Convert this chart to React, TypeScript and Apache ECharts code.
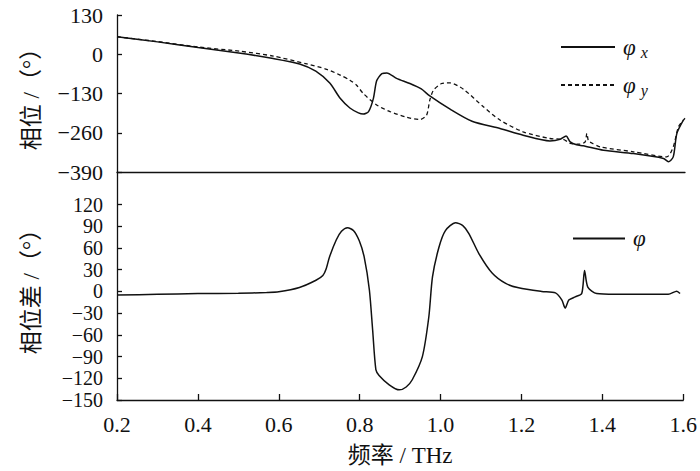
import React, { useEffect, useRef } from "react";
import * as echarts from "echarts";

// φx (solid) – frequency (THz) and phase (°)
const freqX = [0.2, 0.3, 0.4, 0.5, 0.585, 0.65, 0.69, 0.725, 0.75, 0.774, 0.795, 0.807, 0.82, 0.832, 0.84, 0.853, 0.865, 0.889, 0.922, 0.95, 0.971, 1.021, 1.075, 1.144, 1.201, 1.267, 1.292, 1.307, 1.317, 1.333, 1.349, 1.399, 1.473, 1.547, 1.559, 1.571, 1.58, 1.596];
const phaseX = [58, 41, 22, 4, -14, -32, -56, -96, -146, -178, -194, -198, -190, -146, -88, -64, -62, -80, -97, -115, -138, -182, -222, -246, -268, -287, -282, -271, -290, -300, -303, -318, -329, -345, -356, -340, -262, -218];

// φy (dashed)
const freqY = [0.2, 0.3, 0.4, 0.503, 0.585, 0.668, 0.717, 0.75, 0.774, 0.79, 0.807, 0.84, 0.873, 0.914, 0.947, 0.963, 0.971, 0.98, 1.0, 1.013, 1.021, 1.054, 1.103, 1.144, 1.201, 1.267, 1.3, 1.317, 1.341, 1.354, 1.358, 1.362, 1.366, 1.391, 1.473, 1.555, 1.571, 1.584, 1.6];
const phaseY = [58, 42, 24, 10, -6, -32, -50, -69, -86, -102, -130, -168, -190, -209, -216, -202, -152, -119, -97, -95, -95, -116, -174, -218, -257, -279, -282, -295, -298, -290, -262, -288, -291, -307, -323, -340, -307, -240, -212];

// φ (phase difference)
const freqD = [0.2, 0.3, 0.4, 0.5, 0.57, 0.6, 0.651, 0.692, 0.709, 0.717, 0.725, 0.742, 0.755, 0.77, 0.785, 0.799, 0.811, 0.824, 0.832, 0.84, 0.848, 0.873, 0.898, 0.915, 0.93, 0.955, 0.971, 0.98, 0.996, 1.012, 1.037, 1.055, 1.07, 1.095, 1.128, 1.161, 1.193, 1.25, 1.284, 1.3, 1.308, 1.317, 1.333, 1.349, 1.356, 1.364, 1.386, 1.432, 1.563, 1.584, 1.592];
const phaseD = [-5, -4, -3, -2.5, -1.5, -0.5, 5.5, 15.5, 22, 31, 47, 71, 83, 88, 84, 70, 48, 2, -53, -108, -116, -129, -136, -132, -122, -90, -35, 20, 61, 84, 95, 91, 80, 52, 25, 11, 5, 0, -2, -12, -23, -12, -7.5, -3, 29, 6, -3, -4, -4, 0.4, -3];

const xTicks = { min: 0.2, max: 1.6, interval: 0.2 };
const topYTicks = { min: -390, max: 130, interval: 130 };
const bottomYLabels = [-150, -120, -90, -60, -30, 0, 30, 60, 90, 120];

const zip = (xs: number[], ys: number[]) => xs.map((x, i) => [x, ys[i]]);
const FONT = "'Liberation Serif', 'Times New Roman', 'Noto Sans CJK SC', serif";
const minus = (v: number) => String(v).replace("-", "\u2212");

export default function App() {
  const ref = useRef<HTMLDivElement>(null);
  useEffect(() => {
    document.body.style.margin = "0";
    const chart = echarts.init(ref.current!, null, { renderer: "svg" });
    const axisLineStyle = { color: "#111", width: 1.3 };
    const labelStyle = { color: "#111", fontSize: 22, fontFamily: FONT };
    const nameStyle = { color: "#111", fontSize: 23, fontFamily: FONT };
    const legendRich = {
      a: { fontSize: 23, fontFamily: FONT, fontStyle: "italic", color: "#111", lineHeight: 24, padding: [0, 0, 0, 3] },
      b: { fontSize: 16, fontFamily: FONT, fontStyle: "italic", color: "#111", lineHeight: 24, padding: [10, 0, 0, 5] },
    };
    chart.setOption({
      animation: false,
      backgroundColor: "#fff",
      grid: [
        { left: 117, right: 15, top: 15, height: 157 },
        { left: 117, right: 15, top: 172, bottom: 71 },
      ],
      xAxis: [
        {
          type: "value", gridIndex: 0, ...xTicks,
          axisLine: { onZero: false, lineStyle: axisLineStyle },
          axisTick: { show: false }, axisLabel: { show: false }, splitLine: { show: false },
        },
        {
          type: "value", gridIndex: 1, ...xTicks,
          axisLine: { onZero: false, lineStyle: axisLineStyle },
          axisTick: { inside: true, length: 6, lineStyle: axisLineStyle },
          axisLabel: { ...labelStyle, margin: 13, showMinLabel: true, showMaxLabel: true, formatter: (v: number) => v.toFixed(1) },
          splitLine: { show: false },
          name: "频率 / THz", nameLocation: "middle", nameGap: 44, nameTextStyle: nameStyle,
        },
      ],
      yAxis: [
        {
          type: "value", gridIndex: 0, ...topYTicks,
          axisLine: { show: true, onZero: false, lineStyle: axisLineStyle },
          axisTick: { show: true, inside: true, length: 5, lineStyle: axisLineStyle },
          axisLabel: { ...labelStyle, lineHeight: 20, margin: 14, showMinLabel: true, showMaxLabel: true, formatter: minus },
          splitLine: { show: false },
          name: "相位 /（°）", nameLocation: "middle", nameGap: 74, nameTextStyle: nameStyle,
        },
        {
          type: "value", gridIndex: 1, min: -150, max: 165, interval: 30,
          axisLine: { show: true, onZero: false, lineStyle: axisLineStyle },
          axisTick: { show: true, inside: true, length: 5, lineStyle: axisLineStyle, customValues: bottomYLabels },
          axisLabel: {
            ...labelStyle, fontSize: 20, lineHeight: 19, margin: 14, showMinLabel: true, showMaxLabel: true, hideOverlap: false,
            formatter: minus, customValues: bottomYLabels,
          },
          splitLine: { show: false },
          name: "相位差 /（°）", nameLocation: "middle", nameGap: 74, nameTextStyle: nameStyle,
        },
      ],
      legend: [
        {
          data: ["φx", "φy"], orient: "vertical", left: 560, top: 34, padding: 0, itemWidth: 54, itemHeight: 14, itemGap: 12,
          itemStyle: { opacity: 0 },
          formatter: (n: string) => (n === "φx" ? "{a|φ}{b|x}" : "{a|φ}{b|y}"),
          textStyle: { rich: legendRich },
        },
        {
          data: ["φ"], orient: "vertical", left: 572, top: 227, padding: 0, itemWidth: 52, itemHeight: 14,
          itemStyle: { opacity: 0 },
          formatter: () => "{a|φ}",
          textStyle: { rich: legendRich },
        },
      ],
      series: [
        {
          name: "φx", type: "line", xAxisIndex: 0, yAxisIndex: 0, data: zip(freqX, phaseX),
          smooth: 0.25, symbol: "none", lineStyle: { color: "#111", width: 1.5 }, itemStyle: { color: "#111" },
        },
        {
          name: "φy", type: "line", xAxisIndex: 0, yAxisIndex: 0, data: zip(freqY, phaseY),
          smooth: 0.25, symbol: "none", lineStyle: { color: "#111", width: 1.3, type: [4, 3] }, itemStyle: { color: "#111" },
        },
        {
          name: "φ", type: "line", xAxisIndex: 1, yAxisIndex: 1, data: zip(freqD, phaseD),
          smooth: 0.25, symbol: "none", lineStyle: { color: "#111", width: 1.5 }, itemStyle: { color: "#111" },
        },
      ],
    });
    return () => chart.dispose();
  }, []);
  return <div ref={ref} style={{ width: 700, height: 471 }} />;
}
